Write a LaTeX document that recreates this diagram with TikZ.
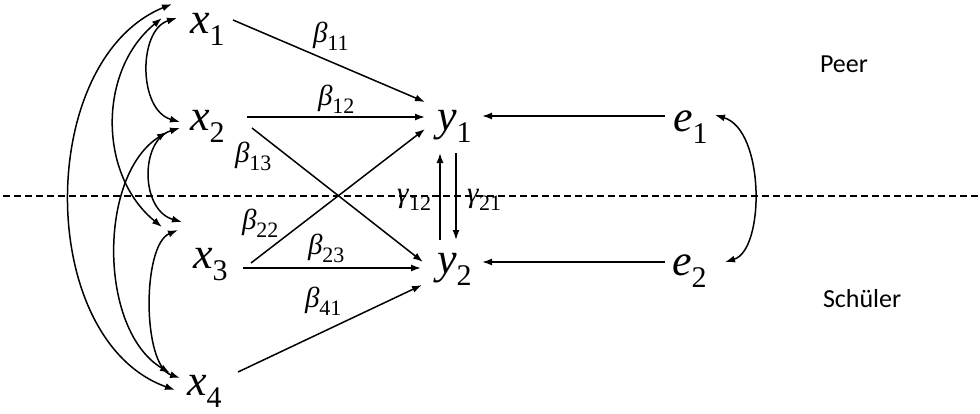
\documentclass[tikz,border=0pt]{standalone}
\usepackage{fontspec}
\setmainfont{Liberation Serif}
\newfontfamily\tnr{Liberation Serif}
\newfontfamily\calibri{Carlito}
\usetikzlibrary{arrows.meta}
\newcommand{\vv}[2]{\tnr\fontsize{44}{44}\selectfont\textit{#1}\raisebox{-12pt}{\fontsize{30}{30}\selectfont\upshape #2}}
\newcommand{\lb}[2]{\tnr\fontsize{29}{29}\selectfont\textit{#1}\raisebox{-8pt}{\fontsize{22}{22}\selectfont\upshape #2}}
\begin{document}
\begin{tikzpicture}[x=1pt,y=-1pt,
  every node/.style={inner sep=0pt,outer sep=0pt,anchor=base west},
  conn/.style={line width=1.5pt,-{Latex[length=10pt,width=7pt]}},
  corr/.style={line width=1.5pt,{Latex[length=10pt,width=7pt]}-{Latex[length=10pt,width=7pt]}},
  sep/.style={line width=1.1pt,dash pattern=on 7pt off 4pt},
  grp/.style={font=\calibri\fontsize{26}{26}\selectfont}]
\useasboundingbox (0,0) rectangle (980,413);
% separator
\coordinate (sl) at (3,196);
\coordinate (sr) at (980,196);
\draw[sep] (sl) -- (sr);
% variables
\node (x1) at (190,33) {\vv{x}{1}};
\node (x2) at (190,130) {\vv{x}{2}};
\node (x3) at (193,268) {\vv{x}{3}};
\node (x4) at (187,395) {\vv{x}{4}};
\node (y1) at (437,130) {\vv{y}{1}};
\node (y2) at (437,273) {\vv{y}{2}};
\node (e1) at (673,131) {\vv{e}{1}};
\node (e2) at (672,275) {\vv{e}{2}};
% group labels
\node[grp] (peer) at (820,72) {Peer};
\node[grp] (schueler) at (823,307) {Schüler};
% path labels
\node (b11) at (313,42) {\lb{β}{11}};
\node (b12) at (318,105) {\lb{β}{12}};
\node (b13) at (235,162) {\lb{β}{13}};
\node (b22) at (242,229) {\lb{β}{22}};
\node (b23) at (308,254) {\lb{β}{23}};
\node (b41) at (305,307) {\lb{β}{41}};
\node (g12) at (397,202) {\lb{γ}{12}};
\node (g21) at (467,202) {\lb{γ}{21}};
% regression paths
\draw[conn] ([shift={(43,-13)}]x1.base west) -- ([shift={(-12,-28)}]y1.base west);
\draw[conn] ([shift={(57,-13)}]x2.base west) -- ([shift={(-12,-13)}]y1.base west);
\draw[conn] ([shift={(62,-2)}]x2.base west) -- ([shift={(-14,-11)}]y2.base west);
\draw[conn] ([shift={(58,-5)}]x3.base west) -- ([shift={(-12,-1)}]y1.base west);
\draw[conn] ([shift={(50,0)}]x3.base west) -- ([shift={(-16,-5)}]y2.base west);
\draw[conn] ([shift={(51,-23)}]x4.base west) -- ([shift={(-15,12)}]y2.base west);
% reciprocal paths
\draw[conn] ([shift={(3,-33)}]y2.base west) -- ([shift={(3,23)}]y1.base west);
\draw[conn] ([shift={(19,23)}]y1.base west) -- ([shift={(19,-33)}]y2.base west);
% residuals
\draw[conn] ([shift={(-8,-15)}]e1.base west) -- ([shift={(45,-14)}]y1.base west);
\draw[conn] ([shift={(-7,-13)}]e2.base west) -- ([shift={(45,-11)}]y2.base west);
\draw[corr] ([shift={(42,-16)}]e1.base west) .. controls (765,130) and (765,250) .. ([shift={(53,-13)}]e2.base west);
% correlations among x
\draw[corr] ([shift={(-13,-15)}]x1.base west) .. controls (138,30) and (138,110) .. ([shift={(-10,-8)}]x2.base west);
\draw[corr] ([shift={(-28,-15)}]x1.base west) .. controls (98,70) and (98,175) .. ([shift={(-31,-41)}]x3.base west);
\draw[corr] ([shift={(-18,-29)}]x1.base west) .. controls (35,60) and (35,340) .. ([shift={(-12,-5)}]x4.base west);
\draw[corr] ([shift={(-10,-2)}]x2.base west) .. controls (140,140) and (140,210) .. ([shift={(-11,-46)}]x3.base west);
\draw[corr] ([shift={(-23,2)}]x2.base west) .. controls (98,175) and (98,330) .. ([shift={(-17,-22)}]x4.base west);
\draw[corr] ([shift={(-15,-38)}]x3.base west) .. controls (142,245) and (142,365) .. ([shift={(-7,-17)}]x4.base west);
\end{tikzpicture}
\end{document}
